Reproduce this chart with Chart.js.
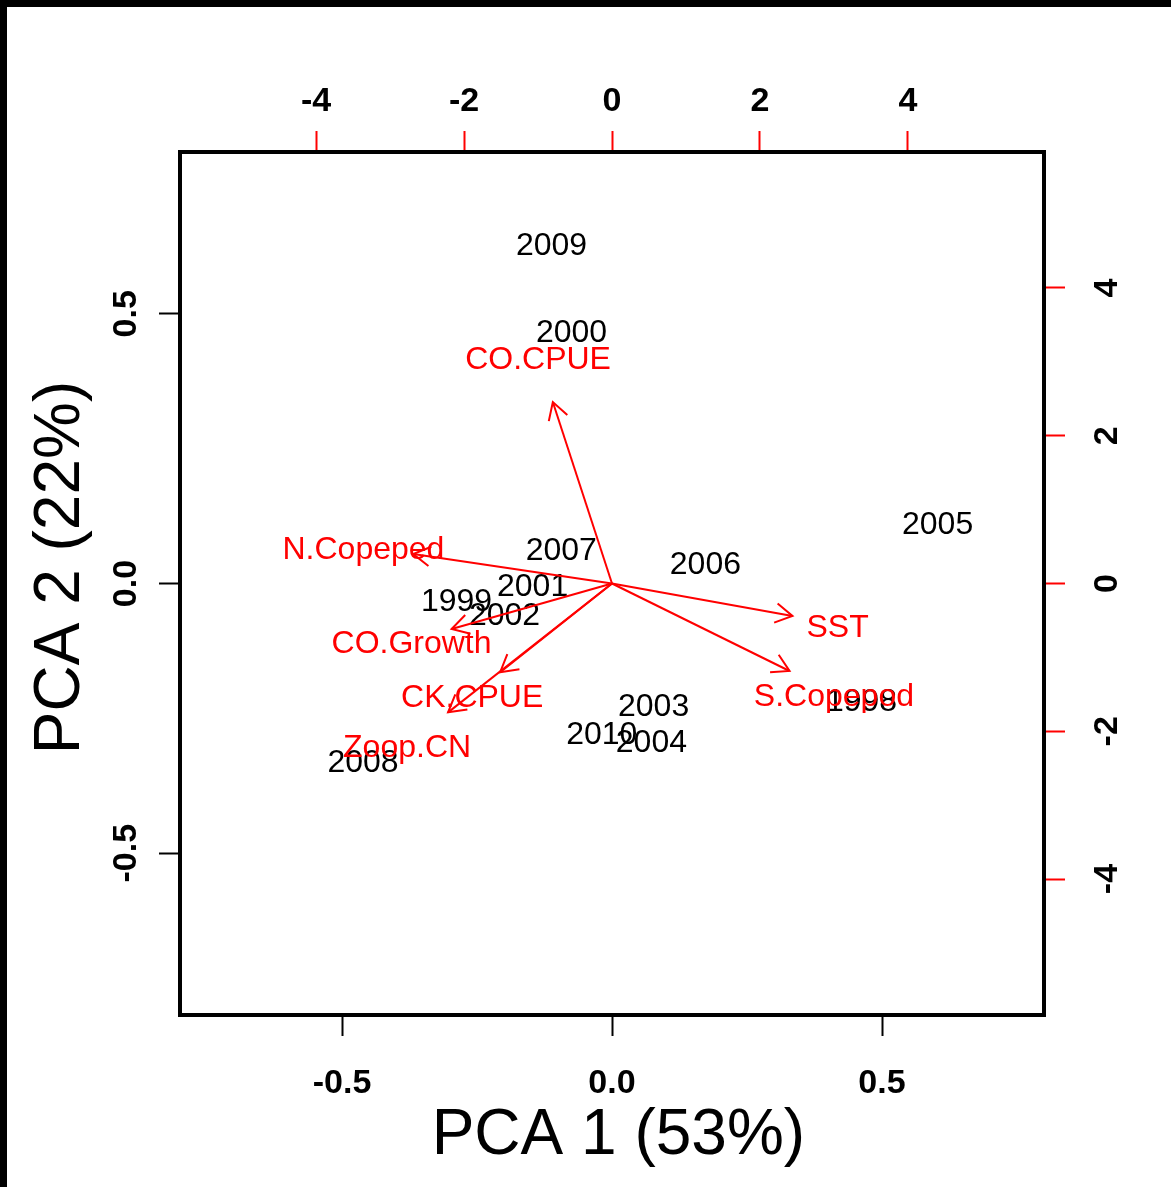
<!DOCTYPE html>
<html>
<head>
<meta charset="utf-8">
<title>PCA biplot</title>
<script src="https://cdn.jsdelivr.net/npm/chart.js@4.4.1/dist/chart.umd.min.js"></script>
<style>
  html, body { margin: 0; padding: 0; background: #fff; }
  canvas { display: block; }
</style>
</head>
<body>
<canvas id="biplot" width="1171" height="1187"></canvas>
<script>
// sample scores, read against the bottom / left axes
const years  = ['2009', '2000', '2005', '2007', '2006', '2001', '1999', '2002', '2003', '2010', '2004', '1998', '2008'];
const scoreX = [-0.112, -0.075, 0.603, -0.094, 0.173, -0.147, -0.288, -0.199, 0.077, -0.019, 0.073, 0.462, -0.461];
const scoreY = [0.630, 0.467, 0.111, 0.063, 0.037, -0.004, -0.031, -0.056, -0.226, -0.278, -0.293, -0.217, -0.329];

// variable loadings, read against the top / right axes (label sits on the loading)
const variables = ['CO.CPUE', 'N.Copeped', 'CO.Growth', 'CK.CPUE', 'Zoop.CN', 'SST', 'S.Copepod'];
const loadX = [-1.00, -3.36, -2.71, -1.89, -2.77, 3.05, 3.00];
const loadY = [3.07, 0.50, -0.77, -1.50, -2.18, -0.55, -1.48];

const scoreTicks = [-0.5, 0, 0.5];
const loadTicks = [-4, -2, 0, 2, 4];
const scoreLimit = 0.8;
const loadLimit = 5.84;
const arrowShrink = 0.8; // biplot draws arrows to 80% of the loading

const fontFamily = '"Liberation Sans", Arial, Helvetica, sans-serif';
const red = '#ff0000';

Chart.defaults.font.family = fontFamily;
Chart.defaults.color = '#000';

const fixedTicks = values => scale => {
    scale.ticks = values.map(v => ({ value: v }));
};

const tickFont = { family: fontFamily, size: 34, weight: 'bold' };
const titleFont = { family: fontFamily, size: 64, weight: 'normal' };

// R centres text a little lower than canvas 'middle' does
function drawTextLabels(chart, datasetIndex, labels, color, dy) {
    const { ctx } = chart;
    const meta = chart.getDatasetMeta(datasetIndex);
    ctx.save();
    ctx.font = '32px ' + fontFamily;
    ctx.fillStyle = color;
    ctx.textAlign = 'center';
    ctx.textBaseline = 'middle';
    meta.data.forEach((pt, i) => ctx.fillText(labels[i], pt.x, pt.y + dy));
    ctx.restore();
}

const biplotDecor = {
    id: 'biplotDecor',
    beforeDraw(chart) {
        const { ctx, width, height } = chart;
        ctx.save();
        ctx.fillStyle = '#fff';
        ctx.fillRect(0, 0, width, height);
        // dark frame left over from the original export
        ctx.fillStyle = '#000';
        ctx.fillRect(0, 0, width, 7);
        ctx.fillRect(0, 0, 7, height);
        ctx.restore();
    },
    beforeDatasetsDraw(chart) {
        drawTextLabels(chart, 0, years, '#000', 2);
    },
    afterDatasetsDraw(chart) {
        const { ctx } = chart;
        ctx.save();
        ctx.strokeStyle = red;
        ctx.lineWidth = 2;
        chart.data.datasets.forEach((ds, i) => {
            if (!ds.isArrow) return;
            const [from, to] = chart.getDatasetMeta(i).data;
            const angle = Math.atan2(to.y - from.y, to.x - from.x);
            const len = 19.5;
            ctx.beginPath();
            ctx.moveTo(to.x - len * Math.cos(angle - Math.PI / 6), to.y - len * Math.sin(angle - Math.PI / 6));
            ctx.lineTo(to.x, to.y);
            ctx.lineTo(to.x - len * Math.cos(angle + Math.PI / 6), to.y - len * Math.sin(angle + Math.PI / 6));
            ctx.stroke();
        });
        ctx.restore();

        drawTextLabels(chart, 1, variables, red, 4);

        const { left, top, right, bottom } = chart.chartArea;
        ctx.save();
        ctx.strokeStyle = '#000';
        ctx.lineWidth = 4;
        ctx.lineJoin = 'miter';
        ctx.strokeRect(left, top, right - left, bottom - top);
        ctx.restore();
    }
};

const arrowSets = variables.map((name, i) => ({
    label: name,
    isArrow: true,
    data: [{ x: 0, y: 0 }, { x: loadX[i] * arrowShrink, y: loadY[i] * arrowShrink }],
    showLine: true,
    borderColor: red,
    borderWidth: 2,
    pointRadius: 0,
    xAxisID: 'x2',
    yAxisID: 'y2'
}));

new Chart(document.getElementById('biplot'), {
    type: 'scatter',
    data: {
        datasets: [
            {
                label: 'years',
                data: years.map((y, i) => ({ x: scoreX[i], y: scoreY[i] })),
                pointRadius: 0,
                xAxisID: 'x',
                yAxisID: 'y'
            },
            {
                label: 'variables',
                data: variables.map((v, i) => ({ x: loadX[i], y: loadY[i] })),
                pointRadius: 0,
                xAxisID: 'x2',
                yAxisID: 'y2'
            },
            ...arrowSets
        ]
    },
    options: {
        responsive: false,
        devicePixelRatio: 1,
        animation: false,
        layout: { padding: 0 },
        plugins: {
            legend: { display: false },
            tooltip: { enabled: false }
        },
        scales: {
            x: {
                type: 'linear',
                position: 'bottom',
                min: -scoreLimit,
                max: scoreLimit,
                afterBuildTicks: fixedTicks(scoreTicks),
                afterFit: s => { s.height = 172; },
                border: { display: false },
                grid: { drawOnChartArea: false, tickLength: 21, tickColor: '#000', tickWidth: 2 },
                ticks: { font: tickFont, color: '#000', padding: 27, autoSkip: false, maxRotation: 0,
                    callback: v => v.toFixed(1) },
                // leading thin space nudges the title right, as in the original
                title: { display: true, text: '\u2009PCA 1 (53%)', color: '#000', font: titleFont,
                    padding: { top: 0, bottom: 12 } }
            },
            x2: {
                type: 'linear',
                position: 'top',
                min: -loadLimit,
                max: loadLimit,
                afterBuildTicks: fixedTicks(loadTicks),
                afterFit: s => { s.height = 152; },
                border: { display: false },
                grid: { drawOnChartArea: false, tickLength: 21, tickColor: red, tickWidth: 2 },
                ticks: { font: tickFont, color: '#000', padding: 9, autoSkip: false, maxRotation: 0,
                    callback: v => String(v) }
            },
            y: {
                type: 'linear',
                position: 'left',
                min: -scoreLimit,
                max: scoreLimit,
                afterBuildTicks: fixedTicks(scoreTicks),
                afterFit: s => { s.width = 180; },
                border: { display: false },
                grid: { drawOnChartArea: false, tickLength: 21, tickColor: '#000', tickWidth: 2 },
                ticks: { font: tickFont, color: '#000', padding: 3, autoSkip: false,
                    minRotation: 90, maxRotation: 90, crossAlign: 'center',
                    callback: v => v.toFixed(1) },
                title: { display: true, text: '\u2002PCA 2 (22%)', color: '#000', font: titleFont,
                    padding: { top: 23, bottom: 0 } }
            },
            y2: {
                type: 'linear',
                position: 'right',
                min: -loadLimit,
                max: loadLimit,
                afterBuildTicks: fixedTicks(loadTicks),
                afterFit: s => { s.width = 127; },
                border: { display: false },
                grid: { drawOnChartArea: false, tickLength: 21, tickColor: red, tickWidth: 2 },
                ticks: { font: tickFont, color: '#000', padding: 28, autoSkip: false,
                    minRotation: 90, maxRotation: 90, crossAlign: 'center',
                    callback: v => String(v) }
            }
        }
    },
    plugins: [biplotDecor]
});
</script>
</body>
</html>
